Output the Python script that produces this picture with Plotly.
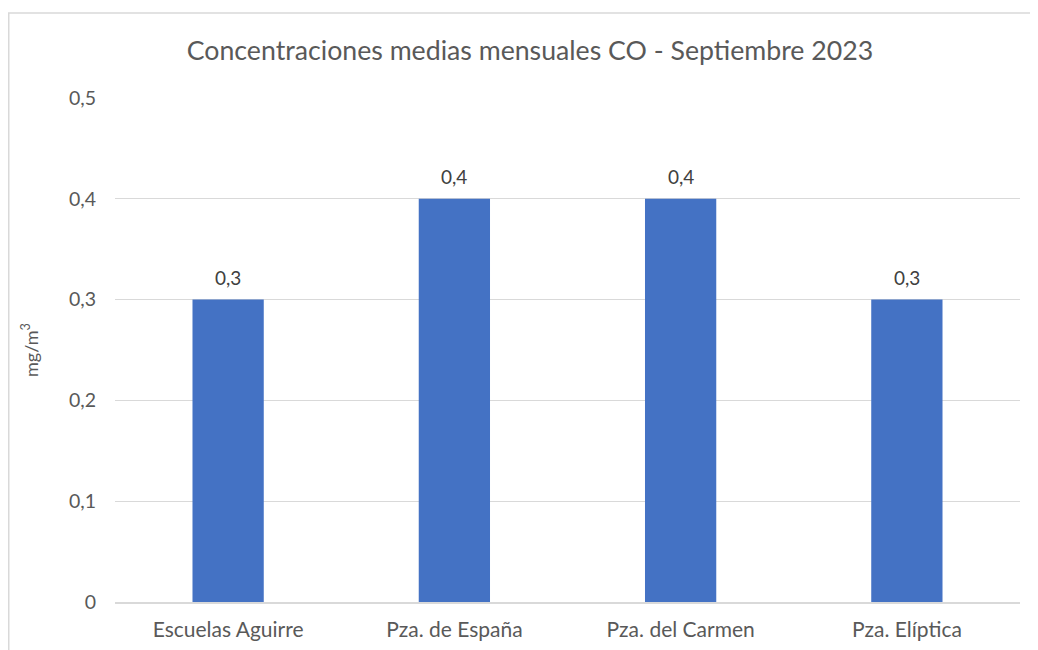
import plotly.graph_objects as go

categories = ["Escuelas Aguirre", "Pza. de España", "Pza. del Carmen", "Pza. Elíptica"]
values = [0.3, 0.4, 0.4, 0.3]
y_tickvals = [0, 0.1, 0.2, 0.3, 0.4, 0.5]
y_ticktext = ["0", "0,1", "0,2", "0,3", "0,4", "0,5"]
title_text = "Concentraciones medias mensuales CO - Septiembre 2023"
y_title = "mg/m<sup>3</sup>"

# page has an 8px body margin
W, H = 1030, 642
L, R, T, B = 107, 18, 90, 48
pw, ph = W - L - R, H - T - B

labels = [f"{v:.1f}".replace(".", ",") for v in values]

fig = go.Figure(go.Bar(
    x=categories, y=values,
    marker=dict(color="#4472C4", line=dict(width=0)),
))

annotations = [dict(x=c, y=v, text=t, xref="x", yref="y", showarrow=False,
                    yanchor="bottom", yshift=9,
                    font=dict(family="Lato", size=19, color="#404040"))
               for c, v, t in zip(categories, values, labels)]
annotations.append(dict(text=y_title, xref="paper", yref="paper",
                        x=(22 - L) / pw, y=(H - B - 342) / ph, textangle=-90, showarrow=False,
                        xanchor="center", yanchor="middle",
                        font=dict(family="Lato", size=18, color="#595959")))

fig.update_layout(
    width=W, height=H,
    margin=dict(l=L, r=R, t=T, b=B, autoexpand=False),
    paper_bgcolor="white", plot_bgcolor="white",
    font=dict(family="Lato", size=19, color="#595959"),
    bargap=0.685,
    showlegend=False,
    title=dict(text=title_text, x=522 / W, xanchor="center", y=1 - 43 / H, yanchor="middle",
               yref="container", xref="container",
               font=dict(family="Lato", size=26.7, color="#595959")),
    xaxis=dict(showgrid=False, showline=True, linecolor="#d9d9d9", linewidth=2,
               ticks="", ticklabelstandoff=8,
               tickfont=dict(family="Lato", size=21, color="#595959")),
    yaxis=dict(range=[0, 0.5], tickvals=y_tickvals, ticktext=y_ticktext,
               showgrid=True, gridcolor="#d9d9d9", gridwidth=1.3, zeroline=False,
               showline=False, ticks="", ticklabelstandoff=18,
               tickfont=dict(family="Lato", size=19.5, color="#595959")),
    annotations=annotations,
    shapes=[dict(type="rect", xref="paper", yref="paper",
                 x0=(0.75 - L) / pw, x1=(W + 20 - L) / pw,
                 y0=-(B + 20) / ph, y1=1 + (T - 5) / ph,
                 line=dict(color="#d9d9d9", width=1.5), layer="below")],
)

fig.write_html("out.html")
